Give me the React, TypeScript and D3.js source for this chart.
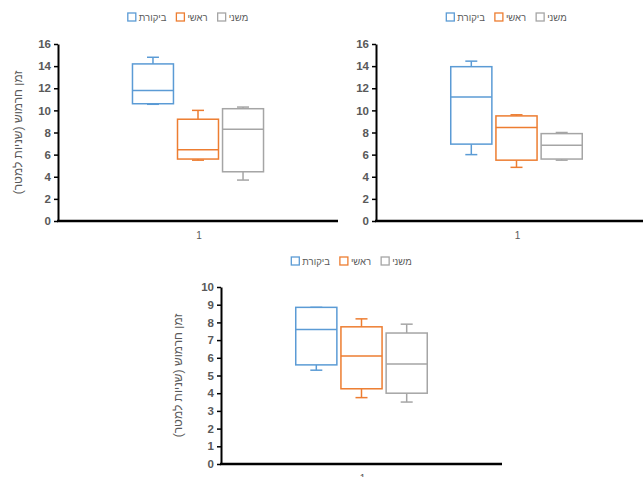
import React, { useRef, useEffect } from "react"
import * as d3 from "d3"

const width = 643
const height = 477

// categories + series
const categories = ["1"]
const seriesNames = ["ביקורת", "ראשי", "משני"]
const seriesColors = ["#5B9BD5", "#ED7D31", "#A5A5A5"]
const yTitle = "זמן חרמוש (שניות למטר)"

// box stats per series: [min, q1, median, q3, max]
const topLeftBoxes = [
  [10.55, 10.6, 11.8, 14.2, 14.8],
  [5.5, 5.6, 6.45, 9.2, 10.0],
  [3.7, 4.45, 8.3, 10.15, 10.3],
]
const topRightBoxes = [
  [6.0, 6.95, 11.2, 13.95, 14.45],
  [4.85, 5.5, 8.45, 9.5, 9.6],
  [5.5, 5.6, 6.85, 7.9, 8.0],
]
const bottomBoxes = [
  [5.3, 5.6, 7.6, 8.85, 8.85],
  [3.75, 4.25, 6.1, 7.75, 8.2],
  [3.5, 4.0, 5.65, 7.4, 7.9],
]

const topTicks = [0, 2, 4, 6, 8, 10, 12, 14, 16]
const bottomTicks = [0, 1, 2, 3, 4, 5, 6, 7, 8, 9, 10]

const charts = [
  { boxes: topLeftBoxes, ticks: topTicks, left: 58, right: 338, top: 44, bottom: 221, legendY: 17, title: true, titleX: 18 },
  { boxes: topRightBoxes, ticks: topTicks, left: 376, right: 657, top: 44, bottom: 221, legendY: 17, title: false, titleX: 0 },
  { boxes: bottomBoxes, ticks: bottomTicks, left: 221, right: 502, top: 287, bottom: 464, legendY: 261, title: true, titleX: 178 },
]

const textColor = "#595959"
const font = "'Liberation Sans', Arial, sans-serif"

const App = () => {
  const ref = useRef(null)

  useEffect(() => {
    if (!ref.current) return
    const svg = d3.select(ref.current)
    svg.selectAll("*").remove()

    charts.forEach(c => {
      const g = svg.append("g")
      const yMax = c.ticks[c.ticks.length - 1]
      const y = d3.scaleLinear().domain([0, yMax]).range([c.bottom, c.top])
      const x = d3.scaleBand().domain(categories).range([c.left, c.right])
      const cx = x(categories[0]) + x.bandwidth() / 2
      const groupW = x.bandwidth() * 0.468
      const inner = d3
        .scaleBand()
        .domain(seriesNames)
        .range([cx - groupW / 2, cx + groupW / 2])
        .paddingInner(0.09)

      // y axis
      const yAxis = g
        .append("g")
        .attr("transform", "translate(" + c.left + ",0)")
        .call(d3.axisLeft(y).tickValues(c.ticks).tickSize(4).tickSizeOuter(0).tickPadding(3))
      yAxis.select(".domain").attr("stroke", "#000").attr("stroke-width", 2)
      yAxis.selectAll(".tick line").attr("stroke", "#000").attr("stroke-width", 1.5)
      yAxis
        .selectAll(".tick text")
        .attr("fill", textColor)
        .attr("font-family", font)
        .attr("font-weight", "bold")
        .attr("font-size", 11.5)

      // x axis line
      g.append("line")
        .attr("x1", c.left - 1)
        .attr("x2", c.right)
        .attr("y1", c.bottom)
        .attr("y2", c.bottom)
        .attr("stroke", "#000")
        .attr("stroke-width", 2.5)

      g.append("text")
        .attr("x", cx + 1)
        .attr("y", c.bottom + 18)
        .attr("text-anchor", "middle")
        .attr("fill", textColor)
        .attr("font-family", font)
        .attr("font-size", 10)
        .text(categories[0])

      // boxes
      c.boxes.forEach((b, i) => {
        const name = seriesNames[i]
        const color = seriesColors[i]
        const bx = inner(name)
        const bw = inner.bandwidth()
        const mid = bx + bw / 2
        const capW = 12
        const bg = g.append("g").attr("stroke", color).attr("stroke-width", 1.5).attr("fill", "none")
        // whiskers
        bg.append("line").attr("x1", mid).attr("x2", mid).attr("y1", y(b[3])).attr("y2", y(b[4]))
        bg.append("line").attr("x1", mid).attr("x2", mid).attr("y1", y(b[1])).attr("y2", y(b[0]))
        bg.append("line").attr("x1", mid - capW / 2).attr("x2", mid + capW / 2).attr("y1", y(b[4])).attr("y2", y(b[4]))
        bg.append("line").attr("x1", mid - capW / 2).attr("x2", mid + capW / 2).attr("y1", y(b[0])).attr("y2", y(b[0]))
        bg.append("rect")
          .attr("x", bx)
          .attr("y", y(b[3]))
          .attr("width", bw)
          .attr("height", y(b[1]) - y(b[3]))
          .attr("fill", "#fff")
        bg.append("line").attr("x1", bx).attr("x2", bx + bw).attr("y1", y(b[2])).attr("y2", y(b[2]))
      })

      // legend
      const lg = g.append("g")
      let lx = 0
      seriesNames.forEach((name, i) => {
        lg.append("rect")
          .attr("x", lx)
          .attr("y", c.legendY - 4)
          .attr("width", 8)
          .attr("height", 8)
          .attr("fill", "#fff")
          .attr("stroke", seriesColors[i])
          .attr("stroke-width", 1.3)
        const t = lg
          .append("text")
          .attr("x", lx + 11)
          .attr("y", c.legendY + 4)
          .attr("fill", textColor)
          .attr("font-family", font)
          .attr("font-size", 9.5)
          .text(name)
        const tw = (t.node() as SVGTextElement).getComputedTextLength()
        lx += 11 + tw + 10
      })
      const lw = lx - 10
      lg.attr("transform", "translate(" + (cx - 10 - lw / 2) + ",0)")

      // y title
      if (c.title) {
        g.append("text")
          .attr("transform", "translate(" + c.titleX + "," + (c.top + c.bottom) / 2 + ") rotate(-90)")
          .attr("text-anchor", "middle")
          .attr("direction", "rtl")
          .attr("dy", "0.35em")
          .attr("fill", textColor)
          .attr("font-family", font)
          .attr("font-size", 12)
          .text(yTitle)
      }
    })
  }, [])

  return (
    <svg
      ref={ref}
      width={width}
      height={height}
      style={{ position: "absolute", left: 0, top: 0, background: "#fff" }}
    />
  )
}

export default App
